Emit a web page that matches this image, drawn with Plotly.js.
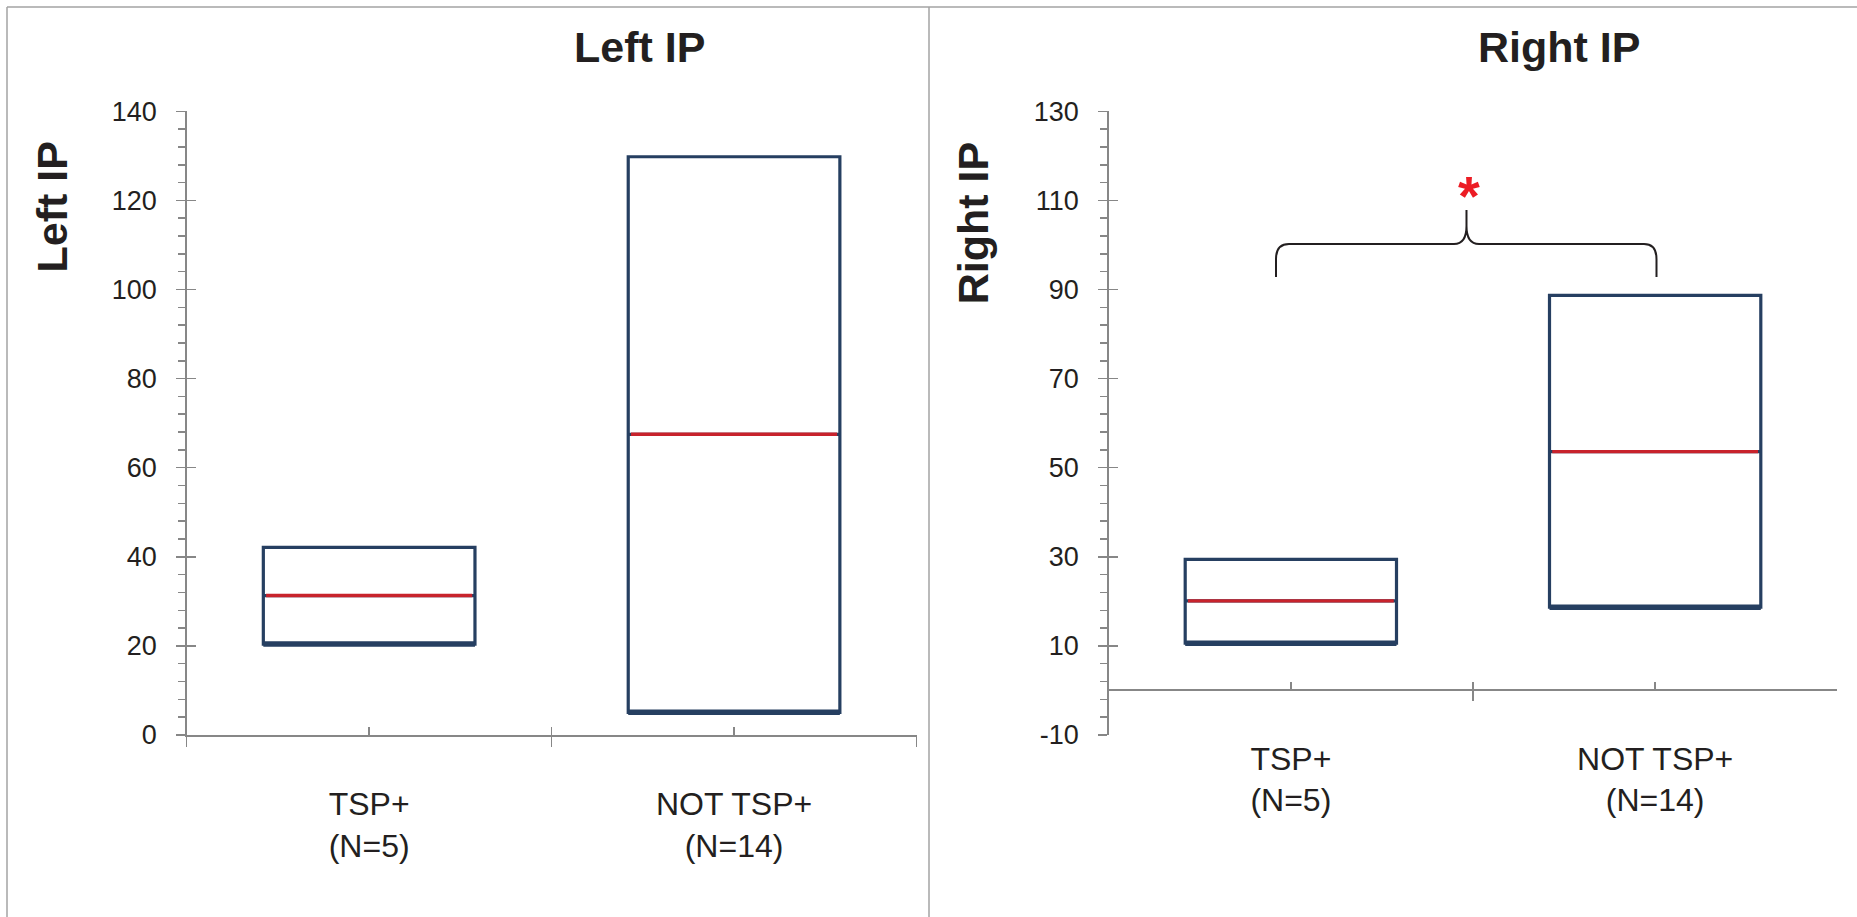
<!DOCTYPE html>
<html>
<head>
<meta charset="utf-8">
<script src="https://cdn.plot.ly/plotly-3.0.1.min.js"></script>
<style>
  html, body { margin: 0; padding: 0; background: #ffffff; }
  #chart { width: 1857px; height: 917px; }
</style>
</head>
<body>
<div id="chart"></div>
<script>
// ---------------- data ----------------
const categories = ['TSP+<br>(N=5)', 'NOT TSP+<br>(N=14)'];

const leftTitle = 'Left IP';
const leftQ1     = [20.4, 5.1];
const leftMedian = [31.3, 67.5];
const leftQ3     = [42.1, 129.8];
const leftRange  = [0, 140];
const leftTicks  = [0, 20, 40, 60, 80, 100, 120, 140];

const rightTitle = 'Right IP';
const rightQ1     = [10.6, 18.7];
const rightMedian = [20.1, 53.6];
const rightQ3     = [29.4, 88.7];
const rightRange  = [-10, 130];
const rightTicks  = [-10, 10, 30, 50, 70, 90, 110, 130];

const significanceMark = '*';

// ---------------- styling / layout helpers ----------------
const W = 1857, H = 917;
const px = x => x / W;
const py = y => 1 - y / H;

const NAVY = '#263f61';
const RED = '#c8232c';
const AXIS = '#878787';
const TEXT = '#231f20';
const FONT = 'Liberation Sans, Arial, Helvetica, sans-serif';

const yDomain = [py(735), py(111.3)];
const leftXDomain = [px(186.7), px(916.5)];
const rightXDomain = [px(1108.7), px(1837.3)];

function boxTraces(q1, med, q3, xa, ya) {
  return [
    { type: 'box', x: categories, q1: q1, median: med, q3: q3,
      lowerfence: q1, upperfence: q3, width: 0.58, whiskerwidth: 0,
      fillcolor: '#ffffff', line: { color: NAVY, width: 3.2 }, boxpoints: false,
      xaxis: xa, yaxis: ya, showlegend: false, hoverinfo: 'skip' },
    { type: 'box', x: categories, q1: q1, median: q1, q3: q1,
      lowerfence: q1, upperfence: q1, width: 0.58, whiskerwidth: 0,
      fillcolor: 'rgba(0,0,0,0)', line: { color: NAVY, width: 5.5 }, boxpoints: false,
      xaxis: xa, yaxis: ya, showlegend: false, hoverinfo: 'skip' },
    { type: 'box', x: categories, q1: med, median: med, q3: med,
      lowerfence: med, upperfence: med, width: 0.565, whiskerwidth: 0,
      fillcolor: 'rgba(0,0,0,0)', line: { color: RED, width: 3.4 }, boxpoints: false,
      xaxis: xa, yaxis: ya, showlegend: false, hoverinfo: 'skip' }
  ];
}

const data = []
  .concat(boxTraces(leftQ1, leftMedian, leftQ3, 'x', 'y'))
  .concat(boxTraces(rightQ1, rightMedian, rightQ3, 'x2', 'y2'))
  .concat([
    { type: 'scatter', x: [], y: [], xaxis: 'x3', yaxis: 'y3', showlegend: false, hoverinfo: 'skip' },
    { type: 'scatter', x: [], y: [], xaxis: 'x4', yaxis: 'y4', showlegend: false, hoverinfo: 'skip' }
  ]);

function catAxis(domain, extra) {
  return Object.assign({
    domain: domain, type: 'category', range: [-0.5, 1.5], tickson: 'boundaries',
    ticks: 'outside', ticklen: 10, tickwidth: 1.5, tickcolor: AXIS,
    showline: true, linecolor: AXIS, linewidth: 2, showgrid: false, zeroline: false,
    tickfont: { family: FONT, size: 32, color: TEXT }, ticklabelstandoff: 40,
    fixedrange: true
  }, extra);
}
function valAxis(range, ticks, extra) {
  return Object.assign({
    domain: yDomain, range: range, tickmode: 'array', tickvals: ticks,
    ticktext: ticks.map(v => String(v)),
    ticks: 'outside', ticklen: 8.5, tickwidth: 1.5, tickcolor: AXIS,
    minor: { tickmode: 'linear', tick0: range[0], dtick: 4, ticks: 'outside', ticklen: 6.5,
             tickwidth: 1.5, tickcolor: AXIS, showgrid: false },
    showline: true, linecolor: AXIS, linewidth: 2, showgrid: false, zeroline: false,
    tickfont: { family: FONT, size: 27, color: TEXT }, ticklabelstandoff: 14,
    fixedrange: true
  }, extra);
}
function innerX(overlay, extra) {
  return Object.assign({
    overlaying: overlay, type: 'linear', range: [-0.5, 1.5], tickmode: 'linear', tick0: -0.5, dtick: 0.5,
    ticks: 'inside', ticklen: 8.5, tickwidth: 1.5, tickcolor: AXIS, showticklabels: false,
    showline: false, showgrid: false, zeroline: false, fixedrange: true
  }, extra);
}
function innerY(overlay, range, ticks, anchor) {
  return {
    overlaying: overlay, anchor: anchor, range: range, tickmode: 'array', tickvals: ticks,
    ticks: 'inside', ticklen: 9, tickwidth: 1.5, tickcolor: AXIS, showticklabels: false,
    showline: false, showgrid: false, zeroline: false, fixedrange: true
  };
}

const zeroPos = yDomain[0] + (0 - rightRange[0]) / (rightRange[1] - rightRange[0]) * (yDomain[1] - yDomain[0]);

// curly brace (annotation) in pixel space -> paper
function P(x, y) { return px(x).toFixed(5) + ',' + py(y).toFixed(5); }
const bracePath =
  'M' + P(1276, 277) + ' L' + P(1276, 259) + ' Q' + P(1276, 244) + ' ' + P(1289, 244) +
  ' L' + P(1454, 244) + ' Q' + P(1466.5, 244) + ' ' + P(1466.5, 226) + ' L' + P(1466.5, 210) +
  ' L' + P(1466.5, 226) + ' Q' + P(1466.5, 244) + ' ' + P(1479, 244) +
  ' L' + P(1644, 244) + ' Q' + P(1656.5, 244) + ' ' + P(1656.5, 259) + ' L' + P(1656.5, 277);

const layout = {
  width: W, height: H,
  margin: { l: 0, r: 0, t: 0, b: 0, pad: 0 },
  paper_bgcolor: '#ffffff', plot_bgcolor: 'rgba(0,0,0,0)',
  font: { family: FONT, color: TEXT },
  showlegend: false, boxmode: 'overlay',
  xaxis: catAxis(leftXDomain, { anchor: 'y' }),
  yaxis: valAxis(leftRange, leftTicks, { anchor: 'x' }),
  xaxis2: catAxis(rightXDomain, { anchor: 'free', position: zeroPos }),
  yaxis2: valAxis(rightRange, rightTicks, { anchor: 'x2' }),
  xaxis3: innerX('x', { anchor: 'y' }),
  yaxis3: innerY('y', leftRange, leftTicks, 'x'),
  xaxis4: innerX('x2', { anchor: 'free', position: zeroPos }),
  yaxis4: innerY('y2', rightRange, rightTicks, 'x2'),
  shapes: [
    { type: 'line', xref: 'paper', yref: 'paper', x0: px(7), x1: px(1857), y0: py(7), y1: py(7),
      line: { color: '#a3a3a3', width: 1.5 } },
    { type: 'line', xref: 'paper', yref: 'paper', x0: px(7), x1: px(7), y0: py(7), y1: py(917),
      line: { color: '#a3a3a3', width: 1.5 } },
    { type: 'line', xref: 'paper', yref: 'paper', x0: px(929), x1: px(929), y0: py(7), y1: py(917),
      line: { color: '#a3a3a3', width: 1.5 } },
    { type: 'path', xref: 'paper', yref: 'paper', path: bracePath,
      line: { color: TEXT, width: 2 } }
  ],
  annotations: [
    { xref: 'paper', yref: 'paper', x: px(639), y: py(47), xanchor: 'center', yanchor: 'middle',
      text: leftTitle, showarrow: false, font: { family: FONT, size: 43, weight: 700, color: TEXT } },
    { xref: 'paper', yref: 'paper', x: px(1559), y: py(47), xanchor: 'center', yanchor: 'middle',
      text: rightTitle, showarrow: false, font: { family: FONT, size: 43, weight: 700, color: TEXT } },
    { xref: 'paper', yref: 'paper', x: px(52), y: py(207.5), xanchor: 'center', yanchor: 'middle',
      textangle: -90, text: leftTitle, showarrow: false,
      font: { family: FONT, size: 43, weight: 700, color: TEXT } },
    { xref: 'paper', yref: 'paper', x: px(973), y: py(223.3), xanchor: 'center', yanchor: 'middle',
      textangle: -90, text: rightTitle, showarrow: false,
      font: { family: FONT, size: 43, weight: 700, color: TEXT } },
    { xref: 'paper', yref: 'paper', x: px(1469), y: py(195), xanchor: 'center', yanchor: 'middle',
      text: significanceMark, showarrow: false, font: { family: FONT, size: 56, weight: 700, color: '#ec1c24' } }
  ]
};

Plotly.newPlot('chart', data, layout, { displayModeBar: false, staticPlot: true });
</script>
</body>
</html>
